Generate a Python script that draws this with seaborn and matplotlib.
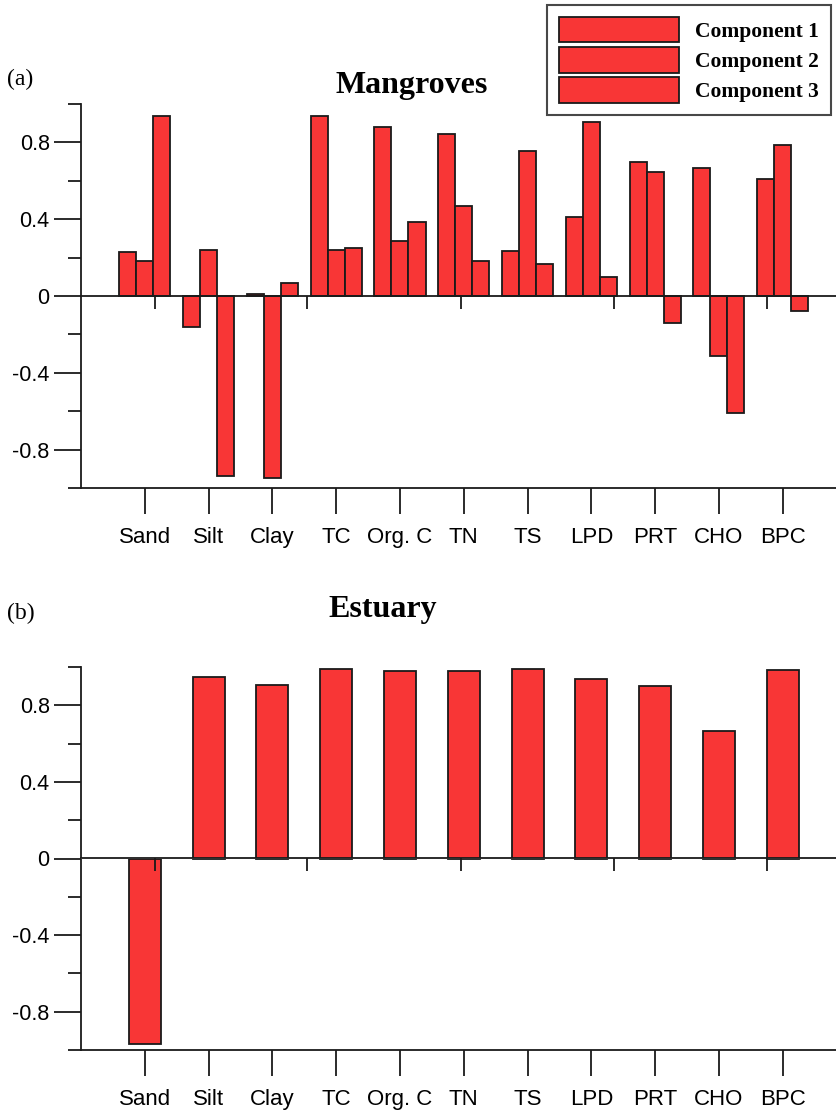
import pandas as pd
import matplotlib
matplotlib.use('Agg')
import matplotlib.pyplot as plt
from matplotlib.patches import Patch
import seaborn as sns

# Loadings
variables = ['Sand', 'Silt', 'Clay', 'TC', 'Org. C', 'TN', 'TS', 'LPD', 'PRT', 'CHO', 'BPC']
components = ['Component 1', 'Component 2', 'Component 3']

mangrove_c1 = [0.23, -0.16, 0.01, 0.937, 0.882, 0.843, 0.233, 0.41, 0.697, 0.667, 0.61]
mangrove_c2 = [0.18, 0.24, -0.95, 0.242, 0.284, 0.47, 0.755, 0.905, 0.645, -0.31, 0.788]
mangrove_c3 = [0.94, -0.94, 0.07, 0.25, 0.383, 0.18, 0.169, 0.10, -0.14, -0.61, -0.08]

estuary_c1 = [-0.967, 0.946, 0.905, 0.99, 0.98, 0.98, 0.99, 0.935, 0.90, 0.665, 0.985]

red = '#F83636'
ink = '#1a1a1a'

sns.set_style('ticks', {'text.color': 'black', 'axes.labelcolor': 'black',
                        'xtick.color': ink, 'ytick.color': ink, 'axes.edgecolor': ink})
plt.rcParams['font.family'] = ['Liberation Sans', 'DejaVu Sans']

mang = pd.DataFrame({
    'variable': variables * 3,
    'component': [c for c in components for _ in variables],
    'loading': mangrove_c1 + mangrove_c2 + mangrove_c3,
})
est = pd.DataFrame({'variable': variables, 'loading': estuary_c1})

fig = plt.figure(figsize=(8.37, 11.1), dpi=100)
ax1 = fig.add_axes([81 / 837, 1 - 488 / 1110, 1 - 81 / 837, 384 / 1110])
ax2 = fig.add_axes([81 / 837, 1 - 1050 / 1110, 1 - 81 / 837, 383 / 1110])

sns.barplot(data=mang, x='variable', y='loading', hue='component', palette=[red] * 3,
            saturation=1, width=0.8, edgecolor=ink, linewidth=1.3, legend=False, ax=ax1)
sns.barplot(data=est, x='variable', y='loading', color=red, saturation=1, width=0.5,
            edgecolor=ink, linewidth=1.3, ax=ax2)

# little ticks sitting on the zero line
zero_ticks = [0.157, 2.55, 4.95, 7.35, 9.75]

for ax in (ax1, ax2):
    ax.set_xlim(-1, 10.85)
    ax.set_ylim(-1, 1)
    ax.set_xlabel('')
    ax.set_ylabel('')
    for s in ('top', 'right'):
        ax.spines[s].set_visible(False)
    for s in ('left', 'bottom'):
        ax.spines[s].set_linewidth(1.3)
    ax.set_yticks([-0.8, -0.4, 0, 0.4, 0.8])
    ax.set_yticklabels(['-0.8', '-0.4', '0', '0.4', '0.8'])
    ax.set_yticks([-1, -0.6, -0.2, 0.2, 0.6, 1.0], minor=True)
    ax.tick_params(axis='y', which='major', left=True, direction='out', length=19.5,
                   width=1.3, labelsize=15.5, labelcolor='black', pad=3)
    ax.tick_params(axis='y', which='minor', left=True, direction='out', length=9.5, width=1.3)
    ax.tick_params(axis='x', which='major', bottom=True, direction='out', length=19,
                   width=1.3, labelsize=16, labelcolor='black', pad=9)
    sec = ax.secondary_xaxis(0.5)
    sec.set_zorder(5)
    sec.set_xticks(zero_ticks, labels=[])
    sec.tick_params(direction='in', length=9.5, width=1.3, top=True)
    sec.spines['top'].set_linewidth(1.3)
    sec.spines['bottom'].set_visible(False)

serif = ['Liberation Serif', 'DejaVu Serif']
fig.text(412 / 837, 1 - 86 / 1110, 'Mangroves', ha='center', va='center',
         fontsize=23, fontweight='bold', family=serif)
fig.text(383 / 837, 1 - 610 / 1110, 'Estuary', ha='center', va='center',
         fontsize=23, fontweight='bold', family=serif)
fig.text(7 / 837, 1 - 79 / 1110, '(a)', ha='left', va='center', fontsize=17, family=serif)
fig.text(7 / 837, 1 - 613 / 1110, '(b)', ha='left', va='center', fontsize=17, family=serif)

handles = [Patch(facecolor=red, edgecolor=ink, linewidth=1.3, label=c) for c in components]
leg = fig.legend(handles=handles, loc='upper right', bbox_to_anchor=(831 / 837, 1 - 5 / 1110),
                 frameon=True, fancybox=False, handlelength=5.6, handleheight=1.45,
                 handletextpad=0.75, labelspacing=0.22, borderpad=0.55, borderaxespad=0,
                 prop={'family': serif, 'weight': 'bold', 'size': 15.5})
leg.get_frame().set_edgecolor(ink)
leg.get_frame().set_linewidth(1.5)

fig.savefig('out.png', dpi=100)
